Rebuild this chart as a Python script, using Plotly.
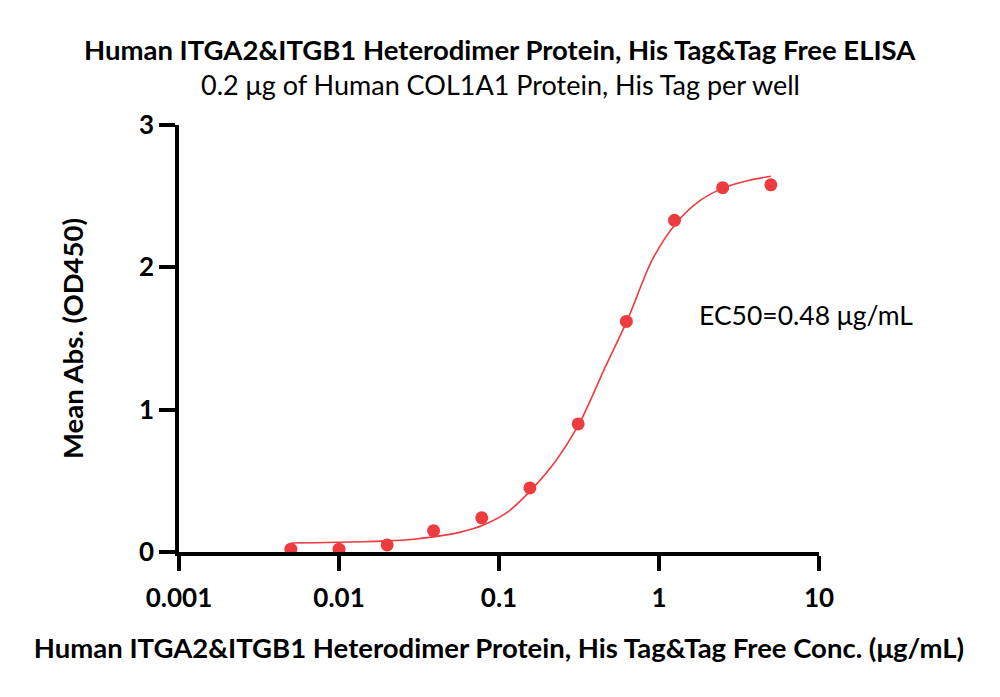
import plotly.graph_objects as go

# Data points
conc = [0.005, 0.01, 0.02, 0.039, 0.078, 0.156, 0.3125, 0.625, 1.25, 2.5, 5.0]
od450 = [0.02, 0.02, 0.05, 0.15, 0.24, 0.45, 0.90, 1.62, 2.33, 2.56, 2.58]

# Fitted curve
fit_x = [0.005, 0.0071, 0.01, 0.0141, 0.02, 0.0283, 0.04, 0.0566, 0.08, 0.113, 0.16,
         0.226, 0.32, 0.453, 0.64, 0.905, 1.28, 1.81, 2.56, 3.62, 5.0]
fit_y = [0.063, 0.065, 0.068, 0.072, 0.078, 0.088, 0.108, 0.138, 0.19, 0.28, 0.44,
         0.64, 0.91, 1.28, 1.64, 2.05, 2.31, 2.47, 2.56, 2.61, 2.64]

x_ticks = [0.001, 0.01, 0.1, 1, 10]
x_tick_labels = ["0.001", "0.01", "0.1", "1", "10"]
y_ticks = [0, 1, 2, 3]

RED = "#EE3B3F"
FONT = "Lato"

L, R, T, B = 179, 181, 125, 145
W, H = 1000, 697
pw, ph = W - L - R, H - T - B


def xpaper(px):
    return (px - L) / pw


def ypaper(py):
    return (H - B - py) / ph


fig = go.Figure()
fig.add_trace(go.Scatter(x=fit_x, y=fit_y, mode="lines",
                         line=dict(color=RED, width=1.6, shape="spline", smoothing=0.8),
                         hoverinfo="skip", showlegend=False))
fig.add_trace(go.Scatter(x=conc, y=od450, mode="markers",
                         marker=dict(color=RED, size=13, line=dict(width=0)),
                         cliponaxis=False, showlegend=False))

fig.update_layout(
    width=W, height=H,
    margin=dict(l=L, r=R, t=T, b=B),
    paper_bgcolor="white", plot_bgcolor="white",
    font=dict(family=FONT, color="black"),
    showlegend=False,
    xaxis=dict(type="log", range=[-3, 1], tickvals=x_ticks, ticktext=x_tick_labels,
               showgrid=False, zeroline=False, showline=True, linecolor="black", linewidth=3.5,
               ticks="outside", ticklen=15, tickwidth=3.5, tickcolor="black",
               ticklabelstandoff=5,
               tickfont=dict(family=FONT, size=26, color="black", weight="bold"),
               title=dict(text="Human ITGA2&ITGB1 Heterodimer Protein, His Tag&Tag Free Conc. (μg/mL)",
                          font=dict(family=FONT, size=27.5, color="black", weight="bold"), standoff=28)),
    yaxis=dict(range=[0, 3], tickvals=y_ticks, showgrid=False, zeroline=False,
               showline=True, linecolor="black", linewidth=3.5,
               ticks="outside", ticklen=16, tickwidth=3.5, tickcolor="black",
               tickfont=dict(family=FONT, size=26, color="black", weight="bold"),
               title=dict(text="Mean Abs. (OD450)",
                          font=dict(family=FONT, size=27.5, color="black", weight="bold"), standoff=48)),
)

fig.add_annotation(text="<b>Human ITGA2&ITGB1 Heterodimer Protein, His Tag&Tag Free ELISA</b>",
                   xref="paper", yref="paper", x=xpaper(500), y=ypaper(49),
                   showarrow=False, font=dict(family=FONT, size=27.5, color="black"), yanchor="middle")
fig.add_annotation(text="0.2 μg of Human COL1A1 Protein, His Tag per well",
                   xref="paper", yref="paper", x=xpaper(500), y=ypaper(85),
                   showarrow=False, font=dict(family=FONT, size=27, color="black"), yanchor="middle")
fig.add_annotation(text="EC50=0.48 μg/mL",
                   xref="paper", yref="paper", x=xpaper(697), y=ypaper(315),
                   xanchor="left", yanchor="middle",
                   showarrow=False, font=dict(family=FONT, size=26.5, color="black"))

fig.write_html("out.html")
